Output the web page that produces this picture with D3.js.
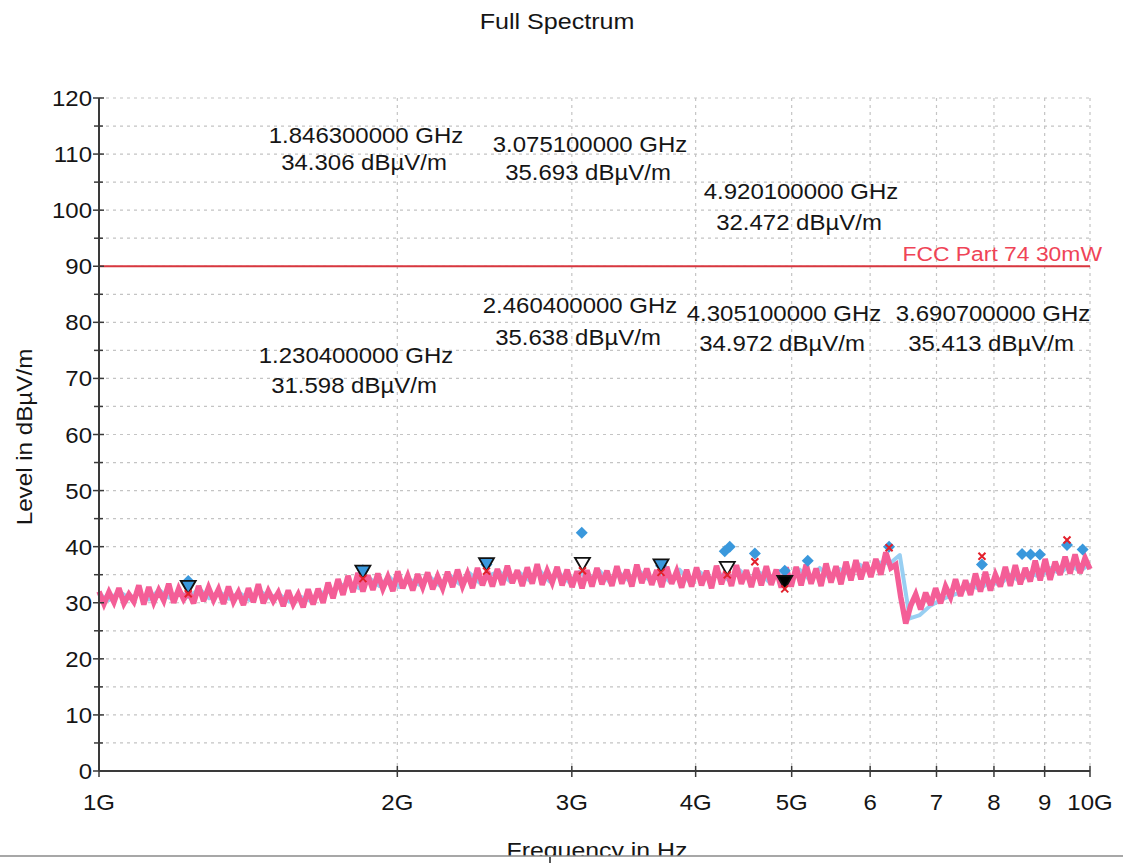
<!DOCTYPE html>
<html>
<head>
<meta charset="utf-8">
<script src="https://cdn.jsdelivr.net/npm/d3@7"></script>
<style>
  html, body { margin: 0; padding: 0; background: #fff; }
  svg { display: block; font-family: "Liberation Sans", Arial, sans-serif; }
</style>
</head>
<body>
<svg id="chart" width="1123" height="863"></svg>
<script>
// ---------------- DATA ----------------
const chartTitle = "Full Spectrum";
const xAxisTitle = "Frequency in Hz";
const yAxisTitle = "Level in dBµV/m";

const xTickValues = [1e9, 2e9, 3e9, 4e9, 5e9, 6e9, 7e9, 8e9, 9e9, 1e10];
const xTickLabels = ["1G", "2G", "3G", "4G", "5G", "6", "7", "8", "9", "10G"];
const yMajorTicks = [0, 10, 20, 30, 40, 50, 60, 70, 80, 90, 100, 110, 120];
const yMinorTicks = [5, 15, 25, 35, 45, 55, 65, 75, 85, 95, 105, 115];

const limitLevel = 90;
const limitLabel = "FCC Part 74 30mW";

const sweepStartHz = 1e9;
const sweepStopHz = 1e10;

// pink trace (max peak), sweep points log-spaced 1..10 GHz
const pinkLevels = [
  32.0, 29.8, 31.9, 30.1, 32.6, 29.9, 31.5, 30.2, 33.1, 29.7,
  32.8, 30.1, 32.2, 30.4, 33.4, 30.0, 32.5, 30.6, 32.0, 29.9, 33.0, 30.3, 32.7, 30.5,
  32.4, 29.8, 32.9, 30.2, 31.9, 29.6, 32.6, 30.1, 33.3, 29.9, 32.1, 30.3,
  31.8, 29.4, 32.2, 29.8, 31.5, 29.2, 32.4, 29.7,
  32.5, 30.0, 33.6, 30.8, 34.2, 31.4,
  34.8, 31.9, 35.3, 32.0,
  34.9, 32.3, 35.2, 32.5, 34.6, 32.1, 35.6, 32.6, 34.8, 32.2, 35.1, 32.8, 35.4, 32.4, 34.7, 32.6,
  35.5, 32.8, 35.9, 33.0, 35.2, 32.6, 36.2, 33.1, 35.6, 32.9,
  36.0, 33.2, 36.6, 33.5, 35.8, 33.0, 36.3, 33.4, 36.9, 33.2, 35.7, 33.6, 36.4, 33.1, 35.9, 32.8, 35.6, 32.6, 35.8, 32.9,
  36.2, 33.3, 35.7, 33.0, 36.5, 33.4, 35.9, 32.9, 36.8, 33.5, 36.1, 33.2, 35.8, 32.8, 36.4, 33.4, 35.6, 32.7, 35.9, 32.9,
  36.3, 33.1, 35.7, 32.6, 36.6, 33.3, 36.0, 33.0, 36.7, 33.4, 35.8, 32.8, 36.2, 33.1, 36.5, 33.2, 35.9, 32.7, 36.3, 32.9,
  36.4, 33.1, 36.8, 33.4, 36.1, 33.0, 37.0, 33.6, 36.5, 33.3,
  37.3, 34.0, 37.6, 34.2, 37.2,
  34.6, 37.8, 35.0,
  39.0, 36.2,
  36.8, 31.0, 26.3, 29.5,
  31.5, 28.8, 31.8,
  29.6, 32.6, 29.9, 32.9,
  31.0, 34.2, 31.2, 34.0, 31.4,
  35.2, 32.0, 35.5, 32.2, 35.0,
  32.9, 36.4, 33.0, 36.7, 33.3, 36.2,
  33.8, 37.5, 34.0, 37.8, 34.1, 37.3,
  35.0, 38.2, 35.2, 38.6, 35.3, 38.0, 36.0
];

// light blue trace (second detector), sweep points log-spaced 1..10 GHz
const blueLevels = [
  31.5, 30.5, 32.0, 30.8, 31.6, 30.6,
  32.3, 30.9, 31.9, 31.0, 32.5, 30.8, 32.0,
  30.7, 31.8, 30.5, 32.2, 30.9,
  31.5, 30.2, 31.2, 30.4,
  31.8, 31.9, 33.0,
  33.5, 32.6,
  34.4, 33.0, 34.6, 32.8, 34.2, 33.2, 34.7, 33.1,
  35.0, 33.4, 35.3, 33.6, 34.9,
  35.6, 33.9, 35.4, 34.0, 35.8, 33.8, 35.2, 33.6, 35.5, 34.1, 35.7, 33.7, 35.3, 33.9, 35.6,
  34.0, 35.4, 33.8, 35.9, 33.7, 35.5, 34.1, 35.2, 33.9, 35.8, 34.0, 35.4, 33.6, 35.7, 34.2,
  35.9, 34.1, 36.2, 34.4, 36.0,
  35.0, 36.8, 35.6, 37.2,
  37.0, 38.5, 27.2, 27.8, 29.4, 30.4, 31.2,
  31.8, 33.2, 32.4, 33.8,
  33.2, 35.0, 33.8, 35.3,
  34.6, 36.2, 35.2, 36.8, 35.6, 37.0
];

// markers (final measurement)
const markerFreqGHz = [1.2304, 1.8463, 2.4604, 3.0751, 3.6907, 4.3051, 4.9201];
const markerLevels  = [31.598, 34.306, 35.638, 35.693, 35.413, 34.972, 32.472];
const markerKinds   = ["blue", "blue", "blue", "open", "blue", "open", "filled"];

// peak list (blue diamonds)
const peakFreqGHz = [1.2304, 1.8463, 2.4604, 3.07, 3.6907, 4.28, 4.33, 4.59, 4.92, 5.19, 6.27, 7.78, 8.54, 8.71, 8.90, 9.48, 9.83];
const peakLevels  = [33.9, 35.8, 36.8, 42.5, 36.6, 39.2, 40.0, 38.8, 35.7, 37.5, 40.0, 36.8, 38.7, 38.6, 38.6, 40.3, 39.5];

// extra red marks
const redFreqGHz = [4.59, 6.27, 7.78, 9.48];
const redLevels  = [37.3, 39.8, 38.3, 41.2];

// ---------------- LAYOUT ----------------
const W = 1123, H = 863;
const plot = { left: 99, right: 1090, top: 98, bottom: 771 };
const textStretch = 1.09;
// marker label placements (center x, baseline of line 1, baseline of line 2), same order as markers
const markerLabelLayout = [
  [356, 363, 393],
  [366, 143, 170],
  [580, 313, 345],
  [590, 152, 180],
  [993, 321, 351],
  [784, 321, 351],
  [801, 199, 230]
];

const colors = {
  grid: "#c4c4c4",
  axis: "#3a3a3a",
  text: "#151515",
  limit: "#d8373f",
  limitText: "#ef4457",
  pink: "#f45e97",
  lightBlue: "#98cff2",
  diamond: "#3a98dc",
  markerBlue: "#3a98dc",
  red: "#e3202b"
};

// ---------------- DRAW ----------------
const svg = d3.select("#chart");
svg.append("rect").attr("width", W).attr("height", H).attr("fill", "#fff");

const x = d3.scaleLog().domain([sweepStartHz, sweepStopHz]).range([plot.left, plot.right]);
const y = d3.scaleLinear().domain([0, 120]).range([plot.bottom, plot.top]);

function stretchedText(parent, px, py, str, opts = {}) {
  return parent.append("text")
    .attr("transform", `translate(${px},${py})${opts.rotate ? ` rotate(${opts.rotate})` : ""} scale(${opts.sx || textStretch},1)`)
    .attr("text-anchor", opts.anchor || "middle")
    .attr("font-size", opts.size || 22)
    .attr("fill", opts.fill || colors.text)
    .text(str);
}

// grid
const grid = svg.append("g");
grid.selectAll("line.h").data(yMajorTicks.concat(yMinorTicks).filter(v => v > 0))
  .join("line")
  .attr("x1", plot.left).attr("x2", plot.right)
  .attr("y1", d => y(d)).attr("y2", d => y(d))
  .attr("stroke", colors.grid).attr("stroke-width", 1.2).attr("stroke-dasharray", "3,4");
grid.selectAll("line.v").data(xTickValues.slice(1))
  .join("line")
  .attr("x1", d => x(d)).attr("x2", d => x(d))
  .attr("y1", plot.top).attr("y2", plot.bottom)
  .attr("stroke", colors.grid).attr("stroke-width", 1.2).attr("stroke-dasharray", "3,4");

// limit line
svg.append("line")
  .attr("x1", plot.left).attr("x2", plot.right)
  .attr("y1", y(limitLevel)).attr("y2", y(limitLevel))
  .attr("stroke", colors.limit).attr("stroke-width", 2);
stretchedText(svg, 1102, y(limitLevel) - 5, limitLabel, { anchor: "end", fill: colors.limitText, size: 21 });

// traces
function sweepFreqs(n) {
  return d3.range(n).map(i => sweepStartHz * Math.pow(sweepStopHz / sweepStartHz, i / (n - 1)));
}
const pinkFreqs = sweepFreqs(pinkLevels.length);
const blueFreqs = sweepFreqs(blueLevels.length);
const line = d3.line().x(d => x(d[0])).y(d => y(d[1]));

svg.append("path")
  .datum(blueFreqs.map((f, i) => [f, blueLevels[i]]))
  .attr("d", line).attr("fill", "none")
  .attr("stroke", colors.lightBlue).attr("stroke-width", 4).attr("stroke-linejoin", "round");
svg.append("path")
  .datum(pinkFreqs.map((f, i) => [f, pinkLevels[i]]))
  .attr("d", line).attr("fill", "none")
  .attr("stroke", colors.pink).attr("stroke-width", 5.5).attr("stroke-linejoin", "miter")
  .attr("stroke-miterlimit", 3);

// peaks (diamonds)
svg.append("g").selectAll("path")
  .data(peakFreqGHz.map((f, i) => [f * 1e9, peakLevels[i]]))
  .join("path")
  .attr("d", d3.symbol().type(d3.symbolSquare).size(72))
  .attr("transform", d => `translate(${x(d[0])},${y(d[1])}) rotate(45)`)
  .attr("fill", colors.diamond);

// markers (down triangles, tip at the level)
const tri = "M0,0 L-7.5,-13 L7.5,-13 Z";
svg.append("g").selectAll("path")
  .data(markerFreqGHz.map((f, i) => ({ f: f * 1e9, v: markerLevels[i], k: markerKinds[i] })))
  .join("path")
  .attr("d", tri)
  .attr("transform", d => `translate(${x(d.f)},${y(d.v)})`)
  .attr("fill", d => d.k === "blue" ? colors.markerBlue : d.k === "filled" ? "#000" : "#fff")
  .attr("stroke", "#111").attr("stroke-width", 1.8).attr("stroke-linejoin", "miter");

// red marks
const cross = "M-3.5,-3.5 L3.5,3.5 M3.5,-3.5 L-3.5,3.5";
const redPts = markerFreqGHz.map((f, i) => [f * 1e9, markerLevels[i]])
  .concat(redFreqGHz.map((f, i) => [f * 1e9, redLevels[i]]));
svg.append("g").selectAll("path")
  .data(redPts)
  .join("path")
  .attr("d", cross)
  .attr("transform", d => `translate(${x(d[0])},${y(d[1])})`)
  .attr("stroke", colors.red).attr("stroke-width", 2).attr("fill", "none");

// axes
const yAxis = svg.append("g").attr("transform", `translate(${plot.left},0)`);
yAxis.append("line").attr("x1", 0).attr("x2", 0).attr("y1", plot.top).attr("y2", plot.bottom)
  .attr("stroke", colors.axis).attr("stroke-width", 2);
yAxis.selectAll("line.maj").data(yMajorTicks).join("line")
  .attr("x1", -6).attr("x2", 5).attr("y1", d => y(d)).attr("y2", d => y(d))
  .attr("stroke", colors.axis).attr("stroke-width", 1.5);
yAxis.selectAll("line.min").data(yMinorTicks).join("line")
  .attr("x1", -5).attr("x2", 4).attr("y1", d => y(d)).attr("y2", d => y(d))
  .attr("stroke", colors.axis).attr("stroke-width", 1.5);
yMajorTicks.forEach(v => {
  stretchedText(yAxis, -7, y(v) + 8, String(v), { anchor: "end" });
});

const xAxis = svg.append("g");
xAxis.append("line").attr("x1", plot.left).attr("x2", plot.right).attr("y1", plot.bottom).attr("y2", plot.bottom)
  .attr("stroke", colors.axis).attr("stroke-width", 2);
xAxis.selectAll("line.t").data(xTickValues).join("line")
  .attr("x1", d => x(d)).attr("x2", d => x(d)).attr("y1", plot.bottom - 5).attr("y2", plot.bottom + 6)
  .attr("stroke", colors.axis).attr("stroke-width", 1.5);
xTickValues.forEach((v, i) => {
  stretchedText(xAxis, x(v), 810, xTickLabels[i]);
});

// titles
stretchedText(svg, 557, 29, chartTitle, { sx: 1.14, size: 22 });
stretchedText(svg, 32, 437, yAxisTitle, { rotate: -90, sx: 1.1 });

// marker annotations
markerFreqGHz.forEach((f, i) => {
  const [cx, b1, b2] = markerLabelLayout[i];
  stretchedText(svg, cx, b1, `${f.toFixed(9)} GHz`);
  stretchedText(svg, cx - 2, b2, `${markerLevels[i].toFixed(3)} dBµV/m`);
});

// x-axis title, cut by window edge line
stretchedText(svg, 597, 858, xAxisTitle, { sx: 1.13 });
svg.append("rect").attr("x", 0).attr("y", 856).attr("width", W).attr("height", H - 856).attr("fill", "#fff");
svg.append("line").attr("x1", 0).attr("x2", W).attr("y1", 856).attr("y2", 856)
  .attr("stroke", "#8a8a8a").attr("stroke-width", 1.5);
svg.append("line").attr("x1", 550).attr("x2", 550).attr("y1", 857).attr("y2", 863)
  .attr("stroke", "#222").attr("stroke-width", 1.5);
</script>
</body>
</html>
